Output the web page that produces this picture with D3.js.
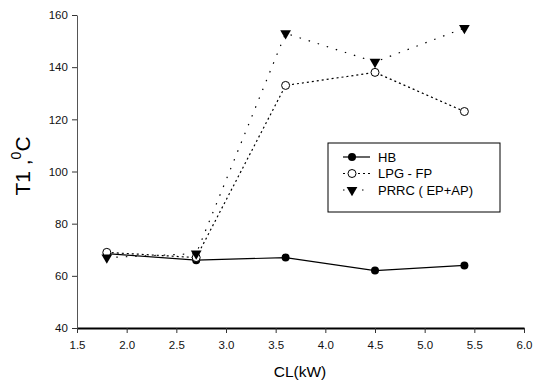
<!DOCTYPE html>
<html><head><meta charset="utf-8">
<script src="https://cdn.jsdelivr.net/npm/d3@7"></script>
<style>body{margin:0;background:#fff}svg{display:block;font-family:"Liberation Sans",Arial,sans-serif}</style>
</head><body>
<svg id="c" width="534" height="385"></svg>
<script>
const xValues = [1.8, 2.7, 3.6, 4.5, 5.4];
const hb = [68.5, 66, 67, 62, 64];
const lpg = [69, 67, 133, 138, 123];
const prrc = [67, 68.5, 153, 142, 155];
const xTicks = [1.5, 2.0, 2.5, 3.0, 3.5, 4.0, 4.5, 5.0, 5.5, 6.0];
const yTicks = [40, 60, 80, 100, 120, 140, 160];
const seriesNames = ["HB", "LPG - FP", "PRRC ( EP+AP)"];

const svg = d3.select("#c");
const x = d3.scaleLinear().domain([1.5, 6.0]).range([77, 524]);
const y = d3.scaleLinear().domain([40, 160]).range([328, 15]);

const xa = svg.append("g").attr("transform", "translate(0,328)")
  .call(d3.axisBottom(x).tickValues(xTicks).tickFormat(d3.format(".1f")).tickSize(5).tickSizeOuter(0));
const ya = svg.append("g").attr("transform", "translate(77,0)")
  .call(d3.axisLeft(y).tickValues(yTicks).tickSize(5).tickSizeOuter(0));
[xa, ya].forEach(a => {
  a.selectAll("text").attr("font-size", 11.5).attr("fill", "#111").attr("font-family", "Liberation Sans, Arial, sans-serif");
  a.selectAll("line").attr("stroke", "#333");
});
xa.select(".domain").attr("stroke", "#000").attr("stroke-width", 2);
ya.select(".domain").attr("stroke", "#555").attr("stroke-width", 1);
xa.selectAll("text").attr("dy", "1.1em");
ya.selectAll("text").attr("dx", "-0.1em");

// axis titles
svg.append("text").attr("x", 300).attr("y", 377).attr("text-anchor", "middle")
  .attr("font-size", 15.5).text("CL(kW)");
const yl = svg.append("text").attr("transform", "translate(30,166) rotate(-90)")
  .attr("text-anchor", "middle").attr("font-size", 21);
yl.append("tspan").text("T1 ,");
yl.append("tspan").attr("font-size", 14).attr("dy", -9).text("0");
yl.append("tspan").attr("dy", 9).text("C");

const line = d3.line().x((d, i) => x(xValues[i])).y(d => y(d));
const series = [
  {v: hb, dash: null, marker: "fc"},
  {v: lpg, dash: "2,3", marker: "oc"},
  {v: prrc, dash: "1.5,8", marker: "tri"}
];
const tri = d3.symbol().type(d3.symbolTriangle).size(50);
function drawMarker(g, mk, cx, cy) {
  if (mk === "fc") g.append("circle").attr("cx", cx).attr("cy", cy).attr("r", 4).attr("fill", "#000");
  else if (mk === "oc") g.append("circle").attr("cx", cx).attr("cy", cy).attr("r", 4).attr("fill", "#fff").attr("stroke", "#000").attr("stroke-width", 1);
  else g.append("path").attr("d", tri()).attr("transform", `translate(${cx},${cy}) rotate(180)`).attr("fill", "#000");
}
series.forEach(s => {
  svg.append("path").datum(s.v).attr("d", line).attr("fill", "none").attr("stroke", "#000")
    .attr("stroke-width", 1.2).attr("stroke-dasharray", s.dash);
});
series.forEach(s => {
  const g = svg.append("g");
  s.v.forEach((d, i) => drawMarker(g, s.marker, x(xValues[i]), y(d)));
});

// legend
const lg = svg.append("g");
lg.append("rect").attr("x", 328).attr("y", 143).attr("width", 172).attr("height", 69)
  .attr("fill", "#fff").attr("stroke", "#000").attr("stroke-width", 1);
series.forEach((s, i) => {
  const yy = 157 + i * 16.5;
  lg.append("line").attr("x1", 343).attr("x2", 370).attr("y1", yy).attr("y2", yy)
    .attr("stroke", "#000").attr("stroke-width", 1.2).attr("stroke-dasharray", s.dash);
  drawMarker(lg, s.marker, 352, yy);
  lg.append("text").attr("x", 378).attr("y", yy + 4.5).attr("font-size", 13).text(seriesNames[i]);
});
</script>
</body></html>
